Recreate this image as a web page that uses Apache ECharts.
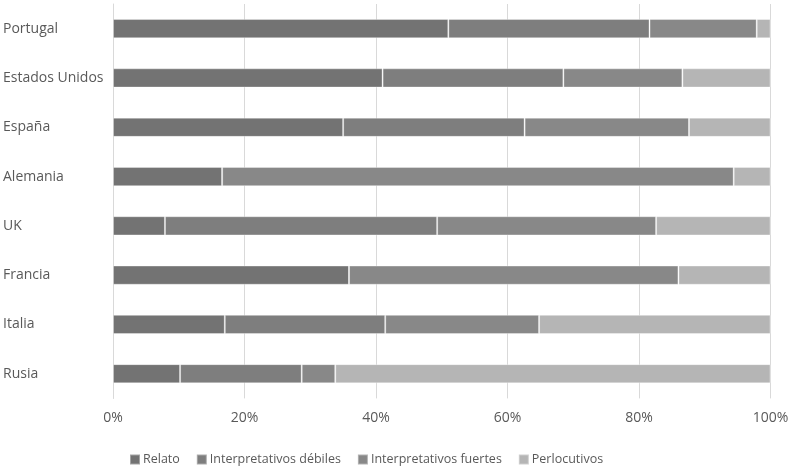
<!DOCTYPE html>
<html><head><meta charset="utf-8">
<script src="https://cdn.jsdelivr.net/npm/echarts@6/dist/echarts.min.js"></script>
<style>html,body{margin:0;padding:0;background:#fff}#c{width:793px;height:469px}</style>
</head><body><div id="c"></div>
<script>
const categories = ["Portugal","Estados Unidos","España","Alemania","UK","Francia","Italia","Rusia"];
const seriesNames = ["Relato","Interpretativos débiles","Interpretativos fuertes","Perlocutivos"];
const relato = [51.0, 41.0, 35.0, 16.6, 7.9, 35.9, 17.0, 10.2];
const debiles = [30.6, 27.5, 27.6, 0, 41.4, 0, 24.4, 18.5];
const fuertes = [16.3, 18.1, 25.0, 77.8, 33.3, 50.1, 23.4, 5.1];
const perlocutivos = [2.1, 13.4, 12.4, 5.6, 17.4, 14.0, 35.2, 66.2];
const tickLabels = ["0%","20%","40%","60%","80%","100%"];

const colors = ["#737373","#7e7e7e","#888888","#b5b5b5"];
const values = [relato, debiles, fuertes, perlocutivos];
const font = "'Open Sans', sans-serif";
const chart = echarts.init(document.getElementById('c'));
chart.setOption({
  animation:false,
  color: colors,
  grid:{left:113, right:22.5, top:4, bottom:70.6, containLabel:false},
  legend:{
    left:124, top:448, itemWidth:10, itemHeight:10, itemGap:16, icon:'rect',
    textStyle:{fontFamily:font, fontSize:12.5, color:'#595959', padding:[0,0,0,-2]},
    data: seriesNames
  },
  xAxis:{
    type:'value', min:0, max:100, interval:20,
    axisLine:{show:false}, axisTick:{show:false},
    splitLine:{lineStyle:{color:'#d9d9d9', width:1}},
    axisLabel:{margin:13, fontFamily:font, fontSize:14, color:'#595959',
      formatter:(v)=>tickLabels[Math.round(v/20)]}
  },
  yAxis:{
    type:'category', inverse:true, data:categories,
    axisLine:{show:true, lineStyle:{color:'#d9d9d9'}}, axisTick:{show:false},
    axisLabel:{align:'left', margin:110, fontFamily:font, fontSize:14, color:'#595959'}
  },
  series: seriesNames.map((n,i)=>({
    name:n, type:'bar', stack:'total', data:values[i],
    barCategoryGap:'61%',
    itemStyle:{color:colors[i], borderColor:'rgba(255,255,255,0.35)', borderWidth:1}
  }))
});
</script></body></html>
